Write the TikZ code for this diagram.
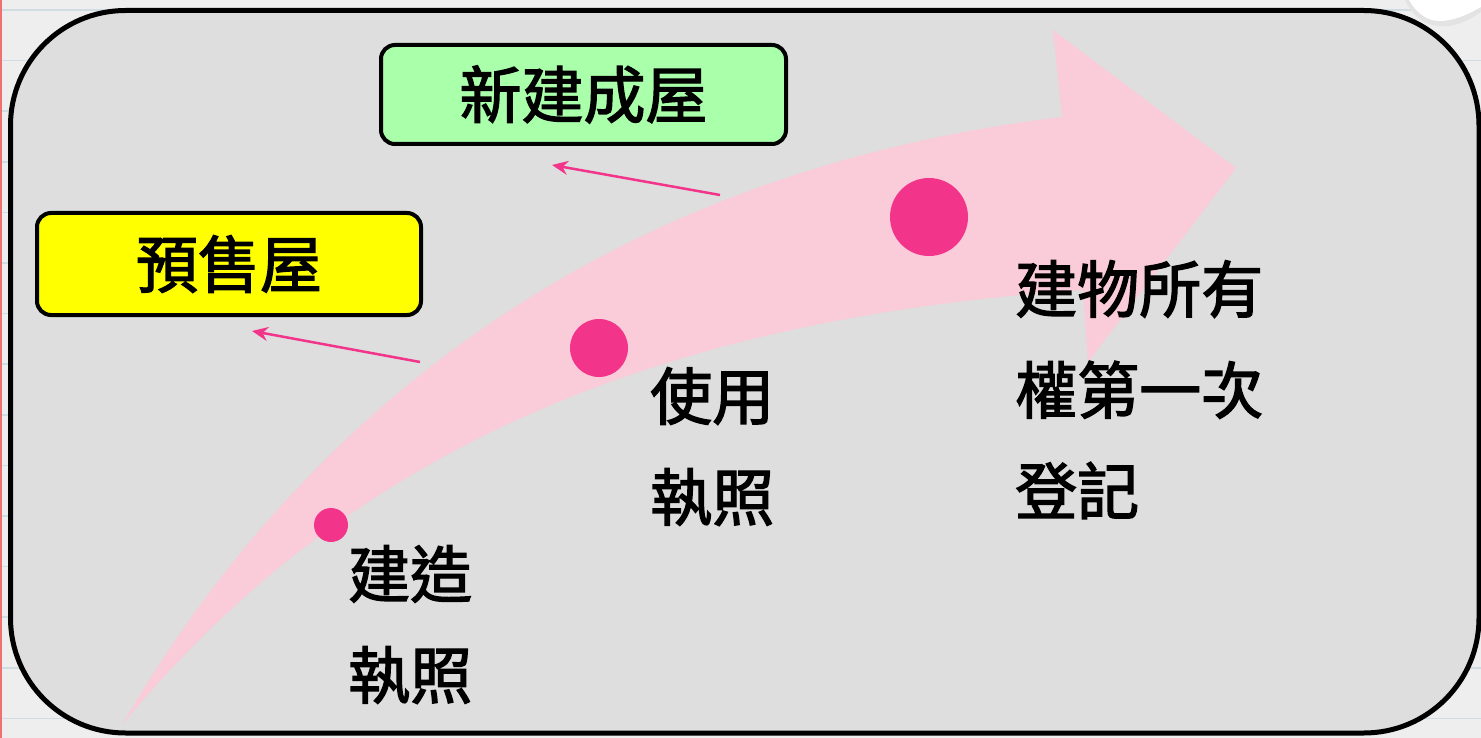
\documentclass[tikz,border=0pt]{standalone}
\usepackage{fontspec}
\newfontfamily\cjk{Noto Sans CJK TC}[FakeBold=2.2]
\usetikzlibrary{arrows.meta}
\definecolor{pagebg}{HTML}{EEEEEE}
\definecolor{ruleline}{HTML}{CFDDE3}
\definecolor{redline}{HTML}{F07070}
\definecolor{panelbg}{HTML}{DEDEDE}
\definecolor{boxgreen}{HTML}{AAFFAA}
\definecolor{boxyellow}{HTML}{FFFF00}
\definecolor{arrowpink}{HTML}{FACBD8}
\definecolor{dotpink}{HTML}{F2358A}
\begin{document}
\begin{tikzpicture}[x=1pt,y=-1pt,
  labelbox/.style={draw=black, line width=4pt, rounded corners=14pt, inner sep=0pt,
    font=\cjk\fontsize{62}{70}\selectfont},
  steptext/.style={inner sep=0pt, align=left, anchor=base west,
    font=\cjk\fontsize{62}{101}\selectfont},
  ptr/.style={draw=dotpink, line width=2.5pt, -{Stealth[length=16pt,width=14pt]}},
  dot/.style={circle, fill=dotpink, inner sep=0pt}]
\useasboundingbox (0,0) rectangle (1481,738);
% page background with ruled lines
\fill[pagebg] (0,0) rectangle (1481,738);
\foreach \k in {0,...,14}
  \draw[ruleline, line width=1.5pt] (0,{10+50.6*\k}) -- (1481,{10+50.6*\k});
\fill[redline] (0,0) rectangle (1.5,738);
% panel
\draw[fill=panelbg, draw=black, line width=5pt, rounded corners=115pt]
  (10.5,10.5) rectangle (1479,733);
% paper curl
\fill[gray!22] (1405,0) .. controls (1414,19) and (1428,28) .. (1450,26)
  .. controls (1465,23) and (1475,16) .. (1481,12) -- (1481,0) -- cycle;
\fill[white] (1409,0) .. controls (1417,14) and (1428,22) .. (1443,21)
  .. controls (1460,19) and (1472,12) .. (1481,7) -- (1481,0) -- cycle;
% big curved arrow
\fill[arrowpink] (122,725) .. controls (310,400) and (620,170) .. (1062,117)
  -- (1053,30) -- (1236,168) -- (1088,362) -- (1083,290)
  .. controls (640,320) and (340,460) .. (122,725) -- cycle;
% dots
\node[dot, minimum size=34pt] (d1) at (331,525) {};
\node[dot, minimum size=58pt] (d2) at (599,348) {};
\node[dot, minimum size=78pt] (d3) at (929,217) {};
% boxes
\node[labelbox, fill=boxgreen, minimum width=405pt, minimum height=99pt] (new) at (583.5,94.5) {新建成屋};
\node[labelbox, fill=boxyellow, minimum width=384pt, minimum height=102pt] (pre) at (229,264) {預售屋};
% pointers
\coordinate (p1s) at (720,195);
\coordinate (p1e) at (552,165);
\coordinate (p2s) at (420,362);
\coordinate (p2e) at (252,331);
\draw[ptr] (p1s) -- (p1e);
\draw[ptr] (p2s) -- (p2e);
% step texts (base anchor = baseline of last line)
\node[steptext] (t1) at (348,698.5) {建造\\執照};
\node[steptext] (t2) at (650,520.5) {使用\\執照};
\node[steptext] (t3) at (1015,514.5) {建物所有\\權第一次\\登記};
\end{tikzpicture}
\end{document}
